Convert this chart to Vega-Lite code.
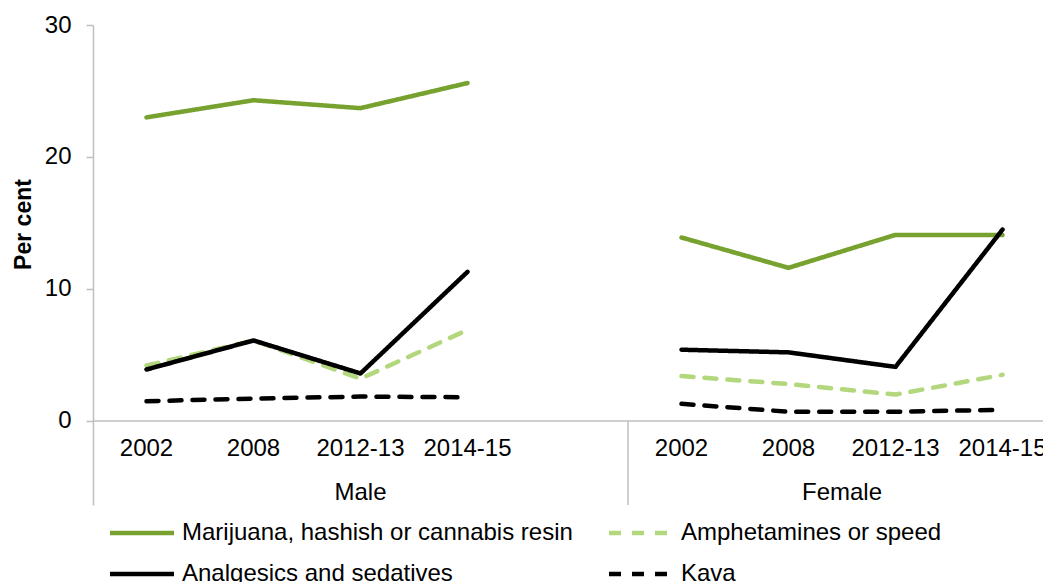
{
  "$schema": "https://vega.github.io/schema/vega-lite/v6.json",
  "width": 950,
  "height": 480,
  "autosize": {"type": "none"},
  "padding": {"left": 93, "top": 25, "right": 0, "bottom": 77},
  "config": {
    "view": {"stroke": null},
    "font": "Liberation Sans",
    "axisY": {
      "grid": false,
      "domainColor": "#BFBFBF",
      "domainWidth": 1.5,
      "tickColor": "#BFBFBF",
      "tickWidth": 1.5,
      "tickSize": 7,
      "labelFontSize": 24,
      "labelColor": "#000000",
      "labelPadding": 15,
      "titleFontSize": 23,
      "titleFontWeight": "bold",
      "titleColor": "#000000",
      "titlePadding": 9,
      "titleY": 199
    }
  },
  "data": {
    "values": [
      {"series": "Marijuana, hashish or cannabis resin", "sex": "Male", "year": "2002", "key": "Male 2002", "value": 23.0},
      {"series": "Marijuana, hashish or cannabis resin", "sex": "Male", "year": "2008", "key": "Male 2008", "value": 24.3},
      {"series": "Marijuana, hashish or cannabis resin", "sex": "Male", "year": "2012-13", "key": "Male 2012-13", "value": 23.7},
      {"series": "Marijuana, hashish or cannabis resin", "sex": "Male", "year": "2014-15", "key": "Male 2014-15", "value": 25.6},
      {"series": "Marijuana, hashish or cannabis resin", "sex": "Female", "year": "2002", "key": "Female 2002", "value": 13.9},
      {"series": "Marijuana, hashish or cannabis resin", "sex": "Female", "year": "2008", "key": "Female 2008", "value": 11.6},
      {"series": "Marijuana, hashish or cannabis resin", "sex": "Female", "year": "2012-13", "key": "Female 2012-13", "value": 14.1},
      {"series": "Marijuana, hashish or cannabis resin", "sex": "Female", "year": "2014-15", "key": "Female 2014-15", "value": 14.1},
      {"series": "Amphetamines or speed", "sex": "Male", "year": "2002", "key": "Male 2002", "value": 4.2},
      {"series": "Amphetamines or speed", "sex": "Male", "year": "2008", "key": "Male 2008", "value": 6.1},
      {"series": "Amphetamines or speed", "sex": "Male", "year": "2012-13", "key": "Male 2012-13", "value": 3.2},
      {"series": "Amphetamines or speed", "sex": "Male", "year": "2014-15", "key": "Male 2014-15", "value": 6.9},
      {"series": "Amphetamines or speed", "sex": "Female", "year": "2002", "key": "Female 2002", "value": 3.4},
      {"series": "Amphetamines or speed", "sex": "Female", "year": "2008", "key": "Female 2008", "value": 2.8},
      {"series": "Amphetamines or speed", "sex": "Female", "year": "2012-13", "key": "Female 2012-13", "value": 2.0},
      {"series": "Amphetamines or speed", "sex": "Female", "year": "2014-15", "key": "Female 2014-15", "value": 3.5},
      {"series": "Analgesics and sedatives", "sex": "Male", "year": "2002", "key": "Male 2002", "value": 3.9},
      {"series": "Analgesics and sedatives", "sex": "Male", "year": "2008", "key": "Male 2008", "value": 6.1},
      {"series": "Analgesics and sedatives", "sex": "Male", "year": "2012-13", "key": "Male 2012-13", "value": 3.6},
      {"series": "Analgesics and sedatives", "sex": "Male", "year": "2014-15", "key": "Male 2014-15", "value": 11.3},
      {"series": "Analgesics and sedatives", "sex": "Female", "year": "2002", "key": "Female 2002", "value": 5.4},
      {"series": "Analgesics and sedatives", "sex": "Female", "year": "2008", "key": "Female 2008", "value": 5.2},
      {"series": "Analgesics and sedatives", "sex": "Female", "year": "2012-13", "key": "Female 2012-13", "value": 4.1},
      {"series": "Analgesics and sedatives", "sex": "Female", "year": "2014-15", "key": "Female 2014-15", "value": 14.5},
      {"series": "Kava", "sex": "Male", "year": "2002", "key": "Male 2002", "value": 1.5},
      {"series": "Kava", "sex": "Male", "year": "2008", "key": "Male 2008", "value": 1.7},
      {"series": "Kava", "sex": "Male", "year": "2012-13", "key": "Male 2012-13", "value": 1.85},
      {"series": "Kava", "sex": "Male", "year": "2014-15", "key": "Male 2014-15", "value": 1.8},
      {"series": "Kava", "sex": "Female", "year": "2002", "key": "Female 2002", "value": 1.3},
      {"series": "Kava", "sex": "Female", "year": "2008", "key": "Female 2008", "value": 0.7},
      {"series": "Kava", "sex": "Female", "year": "2012-13", "key": "Female 2012-13", "value": 0.7},
      {"series": "Kava", "sex": "Female", "year": "2014-15", "key": "Female 2014-15", "value": 0.85}
    ]
  },
  "layer": [
    {
      "data": {"values": [{"base": 0}]},
      "mark": {"type": "rule", "color": "#BFBFBF", "strokeWidth": 1.5},
      "encoding": {
        "y": {"field": "base", "type": "quantitative", "title": "Per cent"}
      }
    },
    {
      "data": {"values": [{"base": 0, "boundary": "Female 2002"}]},
      "mark": {"type": "rule", "color": "#BFBFBF", "strokeWidth": 1.5},
      "encoding": {
        "x": {"field": "boundary", "type": "nominal", "bandPosition": 0, "axis": null},
        "y": {"field": "base", "type": "quantitative", "title": "Per cent"},
        "y2": {"datum": -6.364}
      }
    },
    {
      "mark": {"type": "line", "strokeWidth": 4.5, "strokeCap": "round", "strokeJoin": "round"},
      "encoding": {
        "x": {
          "field": "key",
          "type": "nominal",
          "bandPosition": 0.5,
          "axis": null,
          "scale": {
            "type": "band",
            "domain": ["Male 2002", "Male 2008", "Male 2012-13", "Male 2014-15", "Male blank", "Female 2002", "Female 2008", "Female 2012-13", "Female 2014-15"],
            "range": [0, 963],
            "paddingInner": 0,
            "paddingOuter": 0
          }
        },
        "y": {
          "field": "value",
          "type": "quantitative",
          "title": "Per cent",
          "scale": {"domain": [-6.364, 30], "nice": false, "zero": false},
          "axis": {"values": [0, 10, 20, 30]}
        },
        "color": {
          "field": "series",
          "type": "nominal",
          "title": null,
          "scale": {
            "domain": ["Marijuana, hashish or cannabis resin", "Amphetamines or speed", "Analgesics and sedatives", "Kava"],
            "range": ["#78A22F", "#B3D77C", "#000000", "#000000"]
          },
          "legend": {
            "orient": "none",
            "direction": "horizontal",
            "legendX": 36,
            "legendY": 495,
            "columns": 2,
            "symbolType": "M-3,0H3",
            "symbolSize": 455,
            "symbolStrokeWidth": 4.5,
            "labelFontSize": 24,
            "labelColor": "#000000",
            "labelOffset": 27,
            "labelLimit": 600,
            "columnPadding": 27,
            "rowPadding": 16,
            "padding": 0
          }
        },
        "strokeDash": {
          "field": "series",
          "type": "nominal",
          "title": null,
          "scale": {
            "domain": ["Marijuana, hashish or cannabis resin", "Amphetamines or speed", "Analgesics and sedatives", "Kava"],
            "range": [[1, 0], [12, 11], [1, 0], [12, 11]]
          }
        },
        "detail": {"field": "sex"}
      }
    },
    {
      "transform": [{"filter": "datum.series === 'Kava'"}],
      "mark": {"type": "text", "fontSize": 24, "color": "#000000", "baseline": "middle", "clip": true},
      "encoding": {
        "x": {"field": "key", "type": "nominal", "bandPosition": 0.5, "axis": null},
        "y": {"datum": -2.1},
        "text": {"field": "year"}
      }
    },
    {
      "transform": [{"filter": "datum.series === 'Kava' && datum.key === 'Male 2012-13'"}],
      "mark": {"type": "text", "fontSize": 24, "color": "#000000", "baseline": "middle"},
      "encoding": {
        "x": {"field": "key", "type": "nominal", "bandPosition": 0.5, "axis": null},
        "y": {"datum": -5.45},
        "text": {"field": "sex"}
      }
    },
    {
      "transform": [{"filter": "datum.series === 'Kava' && datum.key === 'Female 2008'"}],
      "mark": {"type": "text", "fontSize": 24, "color": "#000000", "baseline": "middle"},
      "encoding": {
        "x": {"field": "key", "type": "nominal", "bandPosition": 1, "axis": null},
        "y": {"datum": -5.45},
        "text": {"field": "sex"}
      }
    }
  ]
}
